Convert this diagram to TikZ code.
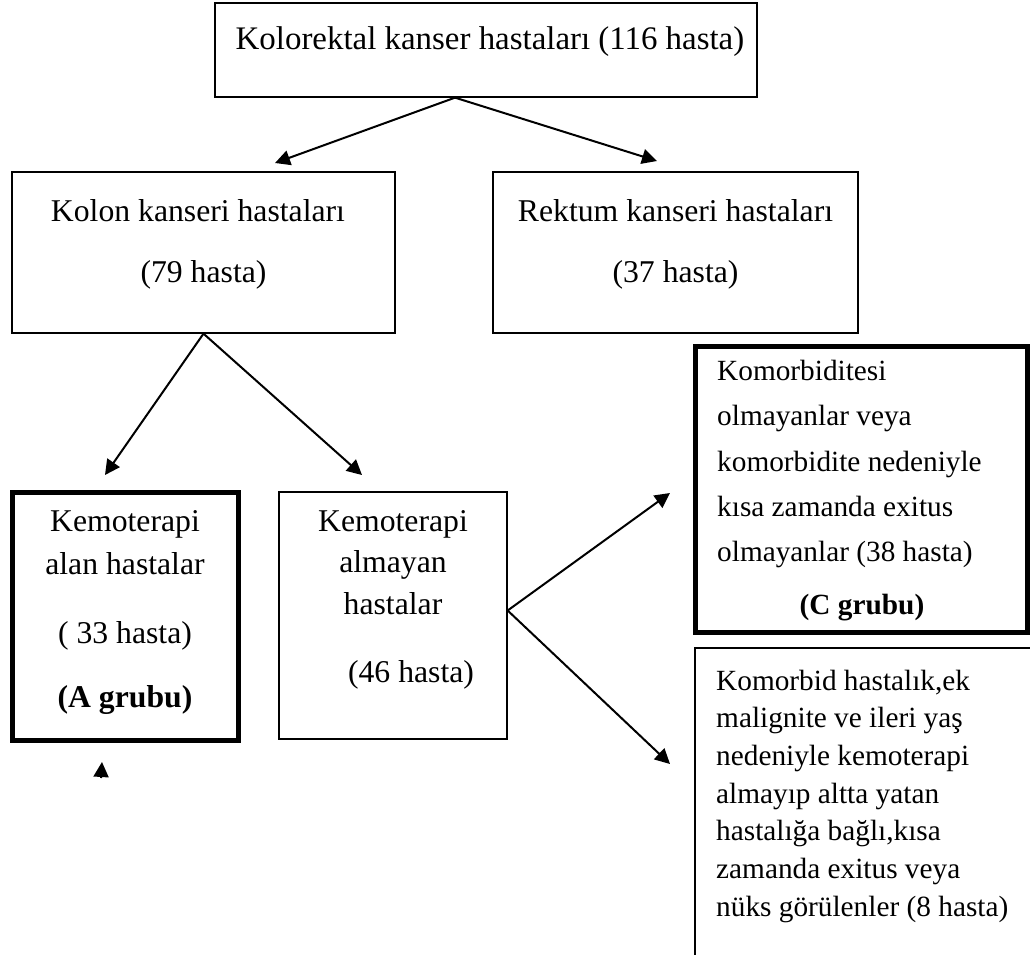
\documentclass[tikz,border=0pt]{standalone}
\usepackage{fontspec}
\setmainfont{Liberation Serif}
\usetikzlibrary{arrows.meta}
\begin{document}
\begin{tikzpicture}[x=1pt,y=-1pt,
  frame/.style={draw=black, line width=1.3pt, inner sep=0pt},
  heavy/.style={draw=black, line width=5pt, inner sep=0pt},
  conn/.style={draw=black, line width=2pt, -{Triangle[length=15pt,width=15pt]}},
  bigtxt/.style={inner sep=0pt, anchor=base, font=\fontsize{31.7}{38}\selectfont},
  smalltxt/.style={inner sep=0pt, anchor=base west, font=\fontsize{29.3}{35}\selectfont},
  smallmid/.style={inner sep=0pt, anchor=base, font=\fontsize{29.3}{35}\selectfont\bfseries},
]
\useasboundingbox (0,0) rectangle (1030,955);
\clip (0,0) rectangle (1030,955);

% boxes
\node[frame, minimum width=542pt, minimum height=94pt]  (top)     at (486,50)    {};
\node[frame, minimum width=383pt, minimum height=161pt] (kolon)   at (203.5,252.5) {};
\node[frame, minimum width=365pt, minimum height=161pt] (rektum)  at (675.5,252.5) {};
\node[heavy, minimum width=226pt, minimum height=248pt] (agrp)    at (125,616)   {};
\node[frame, minimum width=228pt, minimum height=247pt] (almayan) at (393,615.5) {};
\node[heavy, minimum width=332pt, minimum height=286pt] (cgrp)    at (861,489)   {};
\node[frame, minimum width=350pt, minimum height=342pt] (other)   at (870,819)   {};

% texts
\node[bigtxt, font=\fontsize{32.9}{39}\selectfont] (topT) at (490,50) {Kolorektal kanser hastaları (116 hasta)};

\node[bigtxt] (kolonT1) at (198,221) {Kolon kanseri hastaları};
\node[bigtxt] (kolonT2) at (203.5,282) {(79 hasta)};

\node[bigtxt] (rektumT1) at (675.5,221) {Rektum kanseri hastaları};
\node[bigtxt] (rektumT2) at (675.5,282) {(37 hasta)};

\node[bigtxt] (aT1) at (125,531) {Kemoterapi};
\node[bigtxt] (aT2) at (125,574) {alan hastalar};
\node[bigtxt] (aT3) at (125,643) {( 33 hasta)};
\node[bigtxt, font=\fontsize{31.7}{38}\selectfont\bfseries] (aT4) at (125,707) {(A grubu)};

\node[bigtxt] (nT1) at (393,531) {Kemoterapi};
\node[bigtxt] (nT2) at (393,572) {almayan};
\node[bigtxt] (nT3) at (393,614) {hastalar};
\node[bigtxt] (nT4) at (411,682) {(46 hasta)};

\node[smalltxt] (cT1) at (717,380) {Komorbiditesi};
\node[smalltxt] (cT2) at (717,425) {olmayanlar veya};
\node[smalltxt] (cT3) at (717,471) {komorbidite nedeniyle};
\node[smalltxt] (cT4) at (717,516) {kısa zamanda exitus};
\node[smalltxt] (cT5) at (717,561) {olmayanlar (38 hasta)};
\node[smallmid] (cT6) at (862,614) {(C grubu)};

\node[smalltxt] (oT1) at (716,690)   {Komorbid hastalık,ek};
\node[smalltxt] (oT2) at (716,727.7) {malignite ve ileri yaş};
\node[smalltxt] (oT3) at (716,765.3) {nedeniyle kemoterapi};
\node[smalltxt] (oT4) at (716,803)   {almayıp altta yatan};
\node[smalltxt] (oT5) at (716,840.7) {hastalığa bağlı,kısa};
\node[smalltxt] (oT6) at (716,878.3) {zamanda exitus veya};
\node[smalltxt] (oT7) at (716,916)   {nüks görülenler (8 hasta)};

% connector ends
\path (top.south west) -- (top.south east) coordinate[pos=0.443] (topOut);
\coordinate (kolonIn)   at (275,163);
\coordinate (rektumIn)  at (657,161);
\coordinate (aIn)       at (105,475);
\coordinate (almayanIn) at (362,475);
\coordinate (almayanOut) at ([yshift=5pt]almayan.east);
\coordinate (cIn)       at (670,493);
\coordinate (otherIn)   at (670,764);
\coordinate (loneBase)  at (101,778);
\coordinate (loneTip)   at (102,762);

% connectors
\draw[conn] (topOut) -- (kolonIn);
\draw[conn] (topOut) -- (rektumIn);
\draw[conn] (kolon.south) -- (aIn);
\draw[conn] (kolon.south) -- (almayanIn);
\draw[conn] (almayanOut) -- (cIn);
\draw[conn] (almayanOut) -- (otherIn);
\draw[conn] (loneBase) -- (loneTip);
\end{tikzpicture}
\end{document}
